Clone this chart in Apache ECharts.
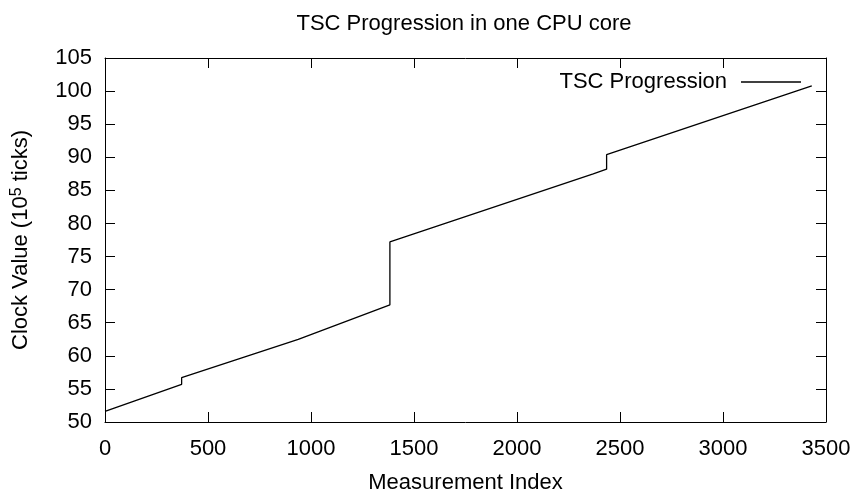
<!DOCTYPE html>
<html>
<head>
<meta charset="utf-8">
<script src="https://cdn.jsdelivr.net/npm/echarts@6/dist/echarts.min.js"></script>
<style>
  html, body { margin: 0; padding: 0; background: #fff; }
  #chart { width: 854px; height: 494px; }
</style>
</head>
<body>
<div id="chart"></div>
<script>
// values (index, clock value in 1e5 ticks)
var measureIndex = [0, 372, 372, 938, 1383, 1383, 2370, 2435, 2435, 3431]
var clockValue = [51.6, 55.7, 56.7, 62.5, 67.7, 77.2, 87.5, 88.2, 90.4, 100.8]
var seriesName = 'TSC Progression'

var points = measureIndex.map(function (x, i) {
  return [x, clockValue[i]]
})

var font = 'Liberation Sans, Arial, sans-serif'
var ink = '#000'

// axis pieces shared by the bottom/top and left/right mirror axes
function mirrorAxis (base, show) {
  return Object.assign({}, base, {
    axisLine: { show: true, onZero: false, lineStyle: { color: ink, width: 1 } },
    axisTick: { show: true, inside: true, length: 10, lineStyle: { color: ink } },
    splitLine: { show: false },
    axisLabel: show
  })
}

var plain = function (v) { return String(v) }
var xBase = { type: 'value', min: 0, max: 3500, interval: 500 }
var yBase = { type: 'value', min: 50, max: 105, interval: 5 }

var chart = echarts.init(document.getElementById('chart'))
chart.setOption({
  animation: false,
  backgroundColor: '#fff',
  textStyle: { fontFamily: font, color: ink },
  title: {
    text: 'TSC Progression in one CPU core',
    left: 459,
    textAlign: 'center',
    top: 8,
    textStyle: { fontFamily: font, fontSize: 22, fontWeight: 'normal', color: ink }
  },
  legend: {
    data: [seriesName],
    right: 48,
    top: 66,
    align: 'right',
    icon: 'path://M0,0L60,0L60,1.5L0,1.5Z',
    itemWidth: 60,
    itemHeight: 1.5,
    itemStyle: { color: ink },
    textStyle: { fontFamily: font, fontSize: 22, color: ink, padding: [0, 9, 0, 0] }
  },
  grid: { left: 105, right: 28, top: 58, bottom: 72, outerBoundsMode: 'none', containLabel: false },
  xAxis: [
    Object.assign(mirrorAxis(xBase, { show: true, margin: 16, fontSize: 22, fontFamily: font, color: ink, formatter: plain }), {
      name: 'Measurement Index',
      nameLocation: 'middle',
      nameGap: 50,
      nameTextStyle: { fontSize: 22, fontFamily: font, color: ink }
    }),
    mirrorAxis(Object.assign({ position: 'top' }, xBase), { show: false })
  ],
  yAxis: [
    Object.assign(mirrorAxis(yBase, { show: true, margin: 13, fontSize: 22, fontFamily: font, color: ink, formatter: plain }), {
      name: '{n|Clock Value (10}{s|5}{n| ticks)}',
      nameLocation: 'middle',
      nameRotate: 90,
      nameGap: 72,
      nameTextStyle: {
        rich: {
          n: { fontSize: 22, fontFamily: font, color: ink, lineHeight: 24 },
          s: { fontSize: 16, fontFamily: font, color: ink, verticalAlign: 'top', lineHeight: 24, padding: [0, 0, 10, 0] }
        }
      }
    }),
    mirrorAxis(Object.assign({ position: 'right' }, yBase), { show: false })
  ],
  series: [
    {
      name: seriesName,
      type: 'line',
      xAxisIndex: 0,
      yAxisIndex: 0,
      data: points,
      symbol: 'none',
      lineStyle: { color: ink, width: 1.3 },
      itemStyle: { color: ink }
    }
  ]
})
</script>
</body>
</html>
